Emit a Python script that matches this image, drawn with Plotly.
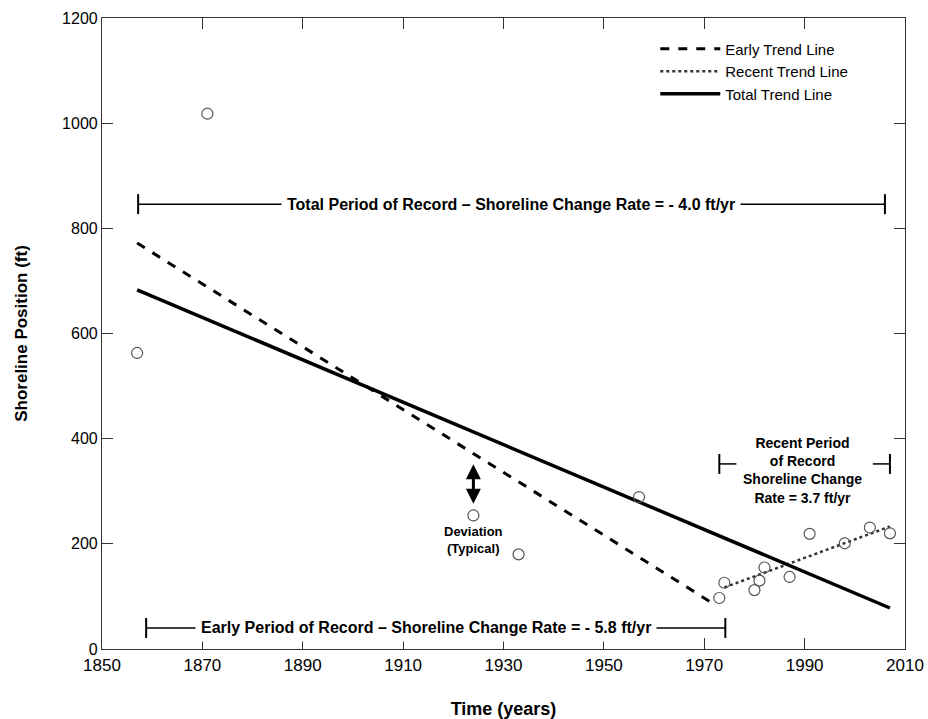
import plotly.graph_objects as go

# ---- data ----
years = [1857, 1871, 1924, 1933, 1957, 1973, 1974, 1980, 1981, 1982, 1987, 1991, 1998, 2003, 2007]
positions = [563, 1018, 254, 180, 289, 97, 126, 112, 130, 155, 137, 219, 201, 231, 220]

early_x = [1857, 1972]
early_y = [772, 85]
recent_x = [1974, 2007]
recent_y = [117, 233]
total_x = [1857, 2007]
total_y = [683, 78]

x_ticks = [1850, 1870, 1890, 1910, 1930, 1950, 1970, 1990, 2010]
y_ticks = [0, 200, 400, 600, 800, 1000, 1200]

# annotation bars (data coords)
total_bar = dict(x0=1857.2, x1=2006, y=846, tx=1931.5,
                 text="Total Period of Record – Shoreline Change Rate = - 4.0 ft/yr")
early_bar = dict(x0=1858.8, x1=1974.2, y=40, tx=1914.5,
                 text="Early Period of Record – Shoreline Change Rate = - 5.8 ft/yr")
recent_bar = dict(x0=1973, x1=2007, y=352)

FONT = "Liberation Sans, Arial, sans-serif"

fig = go.Figure()
fig.add_trace(go.Scatter(x=early_x, y=early_y, mode="lines", name="Early Trend Line",
                         legendgroup="a",
                         line=dict(color="black", width=3, dash="dash")))
fig.add_trace(go.Scatter(x=recent_x, y=recent_y, mode="lines", name="Recent Trend Line",
                         legendgroup="b",
                         line=dict(color="#333333", width=2.5, dash="dot")))
fig.add_trace(go.Scatter(x=total_x, y=total_y, mode="lines", name="Total Trend Line",
                         legendgroup="c",
                         line=dict(color="black", width=3.5)))
fig.add_trace(go.Scatter(x=years, y=positions, mode="markers", showlegend=False,
                         marker=dict(symbol="circle-open", size=11, color="#555555",
                                     line=dict(width=1.2, color="#555555"))))

cap = 19
for b in (total_bar, early_bar):
    fig.add_shape(type="line", x0=b["x0"], x1=b["x1"], y0=b["y"], y1=b["y"],
                  xref="x", yref="y", line=dict(color="black", width=1.5))
    for xx in (b["x0"], b["x1"]):
        fig.add_shape(type="line", x0=xx, x1=xx, y0=b["y"] - cap, y1=b["y"] + cap,
                      xref="x", yref="y", line=dict(color="black", width=2))
    fig.add_annotation(x=b["tx"], y=b["y"], text="<b>" + b["text"] + "</b>",
                       showarrow=False, bgcolor="white", borderpad=5,
                       font=dict(family=FONT, size=16, color="black"))

# recent bar: two short segments with caps
rb = recent_bar
seg = 3.4
fig.add_shape(type="line", x0=rb["x0"], x1=rb["x0"] + seg, y0=rb["y"], y1=rb["y"],
              xref="x", yref="y", line=dict(color="black", width=1.5))
fig.add_shape(type="line", x0=rb["x1"] - seg, x1=rb["x1"], y0=rb["y"], y1=rb["y"],
              xref="x", yref="y", line=dict(color="black", width=1.5))
for xx in (rb["x0"], rb["x1"]):
    fig.add_shape(type="line", x0=xx, x1=xx, y0=rb["y"] - cap, y1=rb["y"] + cap,
                  xref="x", yref="y", line=dict(color="black", width=2))
fig.add_annotation(x=(rb["x0"] + rb["x1"]) / 2 - 0.5, y=339,
                   text="<b>Recent Period<br>of Record<br>Shoreline Change<br>Rate = 3.7 ft/yr</b>",
                   showarrow=False, font=dict(family=FONT, size=14, color="black"),
                   yanchor="middle")

# deviation arrow
fig.add_annotation(x=1924, y=276, ax=1924, ay=354, xref="x", yref="y", axref="x", ayref="y",
                   text="", showarrow=True, arrowhead=2, arrowside="end+start",
                   arrowsize=1, arrowwidth=3, arrowcolor="black")
fig.add_annotation(x=1924, y=242, text="<b>Deviation<br>(Typical)</b>", showarrow=False,
                   font=dict(family=FONT, size=13, color="black"), yanchor="top")

fig.update_layout(
    width=928, height=719,
    margin=dict(l=102, r=23, t=18, b=70, autoexpand=False),
    plot_bgcolor="white", paper_bgcolor="white",
    font=dict(family=FONT, color="black"),
    legend=dict(x=0.689, y=0.977, xanchor="left", yanchor="top",
                font=dict(family=FONT, size=15, color="black"),
                bgcolor="rgba(0,0,0,0)", itemwidth=60, tracegroupgap=0,
                traceorder="grouped"),
    xaxis=dict(range=[1850, 2010], tickvals=x_ticks, ticks="inside", ticklen=11,
               tickcolor="#333", showline=True, linecolor="#333", linewidth=1.2,
               mirror="ticks", showgrid=False, zeroline=False, automargin=False,
               ticklabeloverflow="allow",
               tickfont=dict(family=FONT, size=17, color="black"),
               title=dict(text="<b>Time (years)</b>", font=dict(family=FONT, size=18), standoff=28)),
    yaxis=dict(range=[0, 1200], tickvals=y_ticks, ticks="inside", ticklen=11,
               tickcolor="#333", showline=True, linecolor="#333", linewidth=1.2,
               mirror="ticks", showgrid=False, zeroline=False, automargin=False,
               tickfont=dict(family=FONT, size=16, color="black"),
               title=dict(text="<b>Shoreline Position (ft)</b>", font=dict(family=FONT, size=17), standoff=30)),
)

# remove the page's default body margin so the figure fills the window exactly
fig.write_html("out.html", config={"displayModeBar": False},
               post_script="document.body.style.margin='0';document.body.style.overflow='hidden';")
